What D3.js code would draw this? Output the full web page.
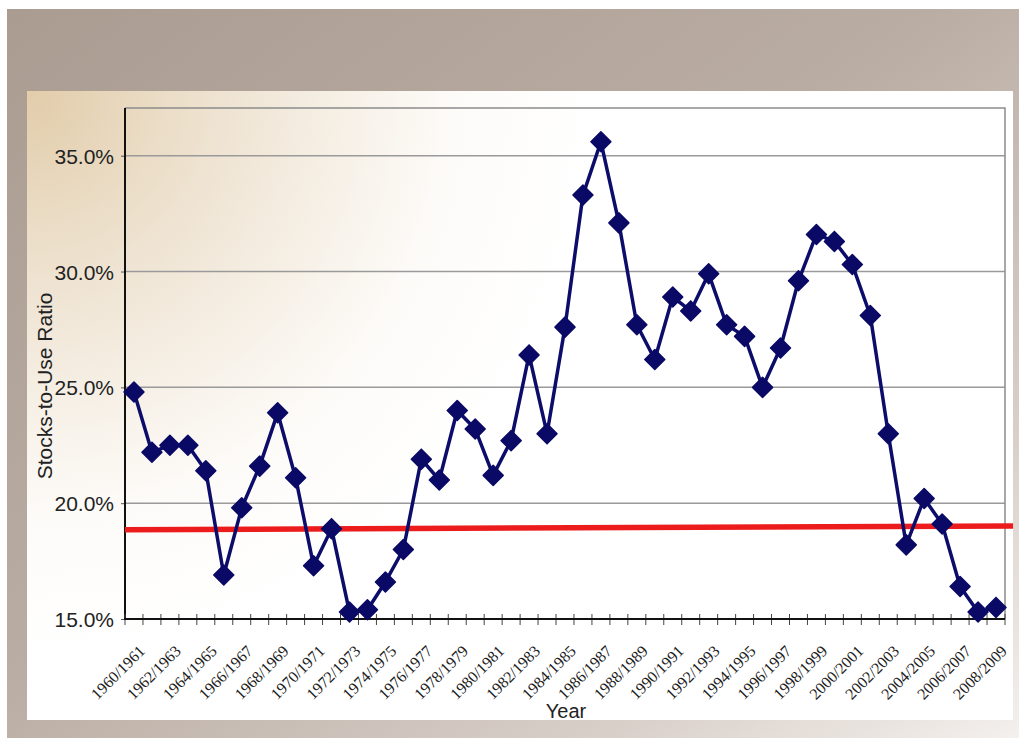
<!DOCTYPE html>
<html>
<head>
<meta charset="utf-8">
<script src="https://cdn.jsdelivr.net/npm/d3@7/dist/d3.min.js"></script>
<style>
  html, body { margin: 0; padding: 0; background: #ffffff; }
  svg { display: block; }
</style>
</head>
<body>
<svg id="chart" width="1019" height="742"></svg>
<script>
// Crop years, one category per marketing year
const categories = [
  "1960/1961","1961/1962","1962/1963","1963/1964","1964/1965","1965/1966","1966/1967",
  "1967/1968","1968/1969","1969/1970","1970/1971","1971/1972","1972/1973","1973/1974",
  "1974/1975","1975/1976","1976/1977","1977/1978","1978/1979","1979/1980","1980/1981",
  "1981/1982","1982/1983","1983/1984","1984/1985","1985/1986","1986/1987","1987/1988",
  "1988/1989","1989/1990","1990/1991","1991/1992","1992/1993","1993/1994","1994/1995",
  "1995/1996","1996/1997","1997/1998","1998/1999","1999/2000","2000/2001","2001/2002",
  "2002/2003","2003/2004","2004/2005","2005/2006","2006/2007","2007/2008","2008/2009"
];

// Stocks-to-use ratio, percent
const stocksToUse = [
  24.8, 22.2, 22.5, 22.5, 21.4, 16.9, 19.8,
  21.6, 23.9, 21.1, 17.3, 18.9, 15.3, 15.4,
  16.6, 18.0, 21.9, 21.0, 24.0, 23.2, 21.2,
  22.7, 26.4, 23.0, 27.6, 33.3, 35.6, 32.1,
  27.7, 26.2, 28.9, 28.3, 29.9, 27.7, 27.2,
  25.0, 26.7, 29.6, 31.6, 31.3, 30.3, 28.1,
  23.0, 18.2, 20.2, 19.1, 16.4, 15.3, 15.5
];

// Reference level drawn across the chart (start / end, in category-index units)
const referencePos = [-0.5, 48.95];
const referenceVal = [18.85, 19.02];

const yTicks = [15, 20, 25, 30, 35];
const xLabelEvery = 2;

const svg = d3.select("#chart");
const defs = svg.append("defs");

// Backdrop gradients
const outerGrad = defs.append("linearGradient").attr("id", "outerGrad")
  .attr("x1", "0").attr("y1", "0").attr("x2", "1").attr("y2", "1");
outerGrad.append("stop").attr("offset", "0").attr("stop-color", "#aa9c91");
outerGrad.append("stop").attr("offset", "0.45").attr("stop-color", "#b9aca2");
outerGrad.append("stop").attr("offset", "0.8").attr("stop-color", "#d9d0ca");
outerGrad.append("stop").attr("offset", "1").attr("stop-color", "#f4f0ed");

const panelGrad = defs.append("radialGradient").attr("id", "panelGrad")
  .attr("gradientUnits", "userSpaceOnUse")
  .attr("cx", 30).attr("cy", 95).attr("r", 560);
panelGrad.append("stop").attr("offset", "0").attr("stop-color", "#e2cdab");
panelGrad.append("stop").attr("offset", "0.35").attr("stop-color", "#efe4d3");
panelGrad.append("stop").attr("offset", "0.75").attr("stop-color", "#fdfbf8");
panelGrad.append("stop").attr("offset", "1").attr("stop-color", "#ffffff");

svg.append("rect").attr("x", 7).attr("y", 9).attr("width", 1012).attr("height", 729)
  .attr("fill", "url(#outerGrad)");
svg.append("rect").attr("x", 27).attr("y", 91).attr("width", 986).attr("height", 629)
  .attr("fill", "url(#panelGrad)");

// Plot geometry
const plot = { left: 125, right: 1005, top: 108, bottom: 619 };

const x = d3.scaleBand().domain(categories).range([plot.left, plot.right]).padding(0);
const xi = d3.scaleLinear().domain([-0.5, categories.length - 0.5]).range([plot.left, plot.right]);
const y = d3.scaleLinear().domain([15, 35]).range([plot.bottom, 155.7]);
const cx = d => x(d) + x.bandwidth() / 2;

// Gridlines
svg.append("g").selectAll("line").data(yTicks.slice(1)).join("line")
  .attr("x1", plot.left).attr("x2", plot.right)
  .attr("y1", d => y(d)).attr("y2", d => y(d))
  .attr("stroke", "#9a9a9a").attr("stroke-width", 1.5);

// Frame top and right
svg.append("path")
  .attr("d", `M${plot.left},${plot.top}H${plot.right}V${plot.bottom}`)
  .attr("fill", "none").attr("stroke", "#8c8c8c").attr("stroke-width", 1.5);

// Y axis
const yAxis = svg.append("g").attr("transform", `translate(${plot.left},0)`)
  .call(d3.axisLeft(y).tickValues(yTicks).tickSize(4).tickFormat(d => d.toFixed(1) + "%"));
yAxis.select(".domain").remove();
yAxis.selectAll(".tick line").attr("stroke", "#555");
yAxis.selectAll(".tick text")
  .attr("x", -11)
  .attr("dy", "0.36em")
  .style("font-family", "'Liberation Sans', Arial, sans-serif")
  .style("font-size", "21px")
  .attr("fill", "#222");
svg.append("line")
  .attr("x1", plot.left).attr("x2", plot.left)
  .attr("y1", plot.top).attr("y2", plot.bottom + 1)
  .attr("stroke", "#111").attr("stroke-width", 2);

// X axis: ticks at category boundaries, labels every other year
const boundaries = d3.range(categories.length + 1);
svg.append("g").selectAll("line").data(boundaries).join("line")
  .attr("x1", d => xi(d - 0.5)).attr("x2", d => xi(d - 0.5))
  .attr("y1", plot.bottom - 5).attr("y2", plot.bottom + 6)
  .attr("stroke", "#444").attr("stroke-width", 1);
svg.append("line")
  .attr("x1", plot.left - 1).attr("x2", plot.right)
  .attr("y1", plot.bottom).attr("y2", plot.bottom)
  .attr("stroke", "#111").attr("stroke-width", 2);

svg.append("g").selectAll("text")
  .data(categories.filter((d, i) => i % xLabelEvery === 0)).join("text")
  .attr("transform", d => `translate(${cx(d) + 12},${plot.bottom + 33}) rotate(-45)`)
  .attr("text-anchor", "end")
  .style("font-family", "'Liberation Serif', 'Times New Roman', serif")
  .style("font-size", "16px")
  .attr("fill", "#1c1c1c")
  .text(d => d);

// Axis titles
svg.append("text")
  .attr("transform", `translate(52,386) rotate(-90)`)
  .attr("text-anchor", "middle")
  .style("font-family", "'Liberation Sans', Arial, sans-serif")
  .style("font-size", "21px")
  .attr("fill", "#222")
  .text("Stocks-to-Use Ratio");
svg.append("text")
  .attr("x", 566).attr("y", 718)
  .attr("text-anchor", "middle")
  .style("font-family", "'Liberation Sans', Arial, sans-serif")
  .style("font-size", "20px")
  .attr("fill", "#222")
  .text("Year");

// Reference level line
const refData = referencePos.map((p, i) => ({ p, v: referenceVal[i] }));
svg.append("path")
  .datum(refData)
  .attr("d", d3.line().x(d => xi(d.p)).y(d => y(d.v)))
  .attr("fill", "none").attr("stroke", "#ec1c1c").attr("stroke-width", 5.5);

// Series line and diamond markers
const series = categories.map((c, i) => ({ c, v: stocksToUse[i] }));
svg.append("path")
  .datum(series)
  .attr("d", d3.line().x(d => cx(d.c)).y(d => y(d.v)))
  .attr("fill", "none").attr("stroke", "#0c0c6a").attr("stroke-width", 3.5)
  .attr("stroke-linejoin", "round");

const diamond = d3.symbol().type(d3.symbolSquare).size(200);
svg.append("g").selectAll("path").data(series).join("path")
  .attr("d", diamond)
  .attr("transform", d => `translate(${cx(d.c)},${y(d.v)}) rotate(45)`)
  .attr("fill", "#0a0a66")
  .attr("stroke", "#0a0a66").attr("stroke-width", 1.5)
  .attr("stroke-linejoin", "round");
</script>
</body>
</html>
